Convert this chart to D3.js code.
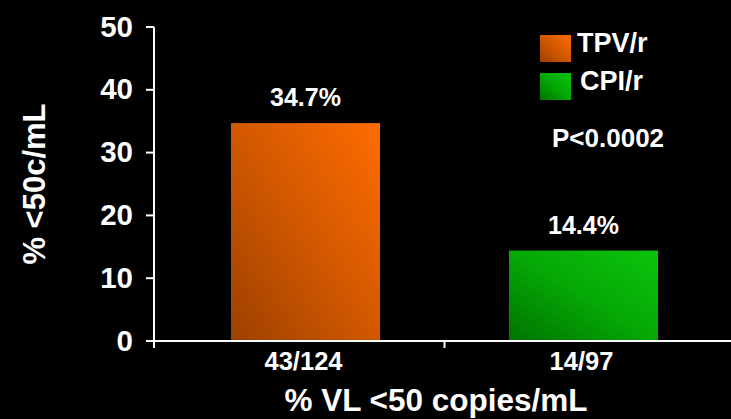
<!DOCTYPE html>
<html>
<head>
<meta charset="utf-8">
<script src="https://cdn.jsdelivr.net/npm/d3@7"></script>
<style>
  html, body { margin: 0; padding: 0; background: #000; }
  svg { display: block; }
  text { font-family: "Liberation Sans", Arial, sans-serif; font-weight: bold; fill: #fff; }
</style>
</head>
<body>
<svg id="chart" width="731" height="419"></svg>
<script>
// Regimen results: share of patients reaching viral load < 50 copies/mL
const categories = ["43/124", "14/97"];
const seriesNames = ["TPV/r", "CPI/r"];
const values = [34.7, 14.4];
const valueLabels = ["34.7%", "14.4%"];
const yTicks = [0, 10, 20, 30, 40, 50];
const pValueText = "P<0.0002";

const svg = d3.select("#chart");
const W = 731, H = 419;
svg.append("rect").attr("width", W).attr("height", H).attr("fill", "#000");

const axisX = 154, baseY = 341, topY = 27;

const x = d3.scaleBand()
  .domain(categories)
  .range([axisX, 735])
  .paddingInner(0.464)
  .paddingOuter(0.277);

const y = d3.scaleLinear().domain([0, 50]).range([baseY, topY]);

// Gradients for bars and legend swatches (dark bottom-left to bright top-right)
const defs = svg.append("defs");
const gradStops = [
  [["0%", "#9c4000"], ["50%", "#d25800"], ["100%", "#ff6c00"]],
  [["0%", "#007400"], ["50%", "#05a805"], ["100%", "#0cc40c"]]
];
gradStops.forEach((stops, i) => {
  const g = defs.append("linearGradient")
    .attr("id", "grad" + i)
    .attr("x1", "0%").attr("y1", "100%")
    .attr("x2", "100%").attr("y2", "0%");
  stops.forEach(s => g.append("stop").attr("offset", s[0]).attr("stop-color", s[1]));
});

// Bars
svg.selectAll("rect.bar")
  .data(values)
  .join("rect")
  .attr("class", "bar")
  .attr("x", (d, i) => x(categories[i]))
  .attr("width", x.bandwidth())
  .attr("y", d => y(d))
  .attr("height", d => y(0) - y(d))
  .attr("fill", (d, i) => `url(#grad${i})`);

// Value labels above bars
svg.selectAll("text.val")
  .data(values)
  .join("text")
  .attr("class", "val")
  .attr("x", (d, i) => x(categories[i]) + x.bandwidth() / 2)
  .attr("y", d => y(d) - 17)
  .attr("text-anchor", "middle")
  .attr("font-size", 25)
  .text((d, i) => valueLabels[i]);

// Y axis
const yAxis = svg.append("g");
yAxis.append("line")
  .attr("x1", axisX).attr("x2", axisX)
  .attr("y1", topY).attr("y2", baseY + 7)
  .attr("stroke", "#fff").attr("stroke-width", 2);
yAxis.selectAll("line.tick")
  .data(yTicks)
  .join("line")
  .attr("class", "tick")
  .attr("x1", axisX - 8).attr("x2", axisX)
  .attr("y1", d => y(d)).attr("y2", d => y(d))
  .attr("stroke", "#fff").attr("stroke-width", 2);
yAxis.selectAll("text.tl")
  .data(yTicks)
  .join("text")
  .attr("class", "tl")
  .attr("x", 133)
  .attr("y", d => y(d) - 1)
  .attr("dy", "0.36em")
  .attr("text-anchor", "end")
  .attr("font-size", 29.5)
  .text(d => d);

// X axis
const xAxis = svg.append("g");
xAxis.append("line")
  .attr("x1", axisX - 7).attr("x2", W)
  .attr("y1", baseY).attr("y2", baseY)
  .attr("stroke", "#fff").attr("stroke-width", 2);
const boundaries = [x.range()[0] + x.step() * (1 + x.paddingOuter()) - x.step() * x.paddingInner() / 2];
xAxis.selectAll("line.xt")
  .data(boundaries)
  .join("line")
  .attr("class", "xt")
  .attr("x1", d => d).attr("x2", d => d)
  .attr("y1", baseY).attr("y2", baseY + 7)
  .attr("stroke", "#fff").attr("stroke-width", 2);
xAxis.selectAll("text.xl")
  .data(categories)
  .join("text")
  .attr("class", "xl")
  .attr("x", d => x(d) + x.bandwidth() / 2 - 2)
  .attr("y", 370)
  .attr("text-anchor", "middle")
  .attr("font-size", 25.5)
  .text(d => d);

// Axis titles
svg.append("text")
  .attr("x", 436).attr("y", 411)
  .attr("text-anchor", "middle")
  .attr("font-size", 31.5)
  .text("% VL <50 copies/mL");

svg.append("text")
  .attr("transform", "translate(45,184) rotate(-90)")
  .attr("text-anchor", "middle")
  .attr("font-size", 31)
  .text("% <50c/mL");

// Legend
const legend = svg.append("g");
seriesNames.forEach((name, i) => {
  const ly = 35 + i * 38;
  legend.append("rect")
    .attr("x", 540).attr("y", ly)
    .attr("width", 31).attr("height", 27)
    .attr("fill", `url(#grad${i})`);
  legend.append("text")
    .attr("x", 577 + i * 3).attr("y", ly + 17)
    .attr("font-size", 27)
    .text(name);
});

// Significance note
svg.append("text")
  .attr("x", 552).attr("y", 147)
  .attr("font-size", 26)
  .text(pValueText);
</script>
</body>
</html>
